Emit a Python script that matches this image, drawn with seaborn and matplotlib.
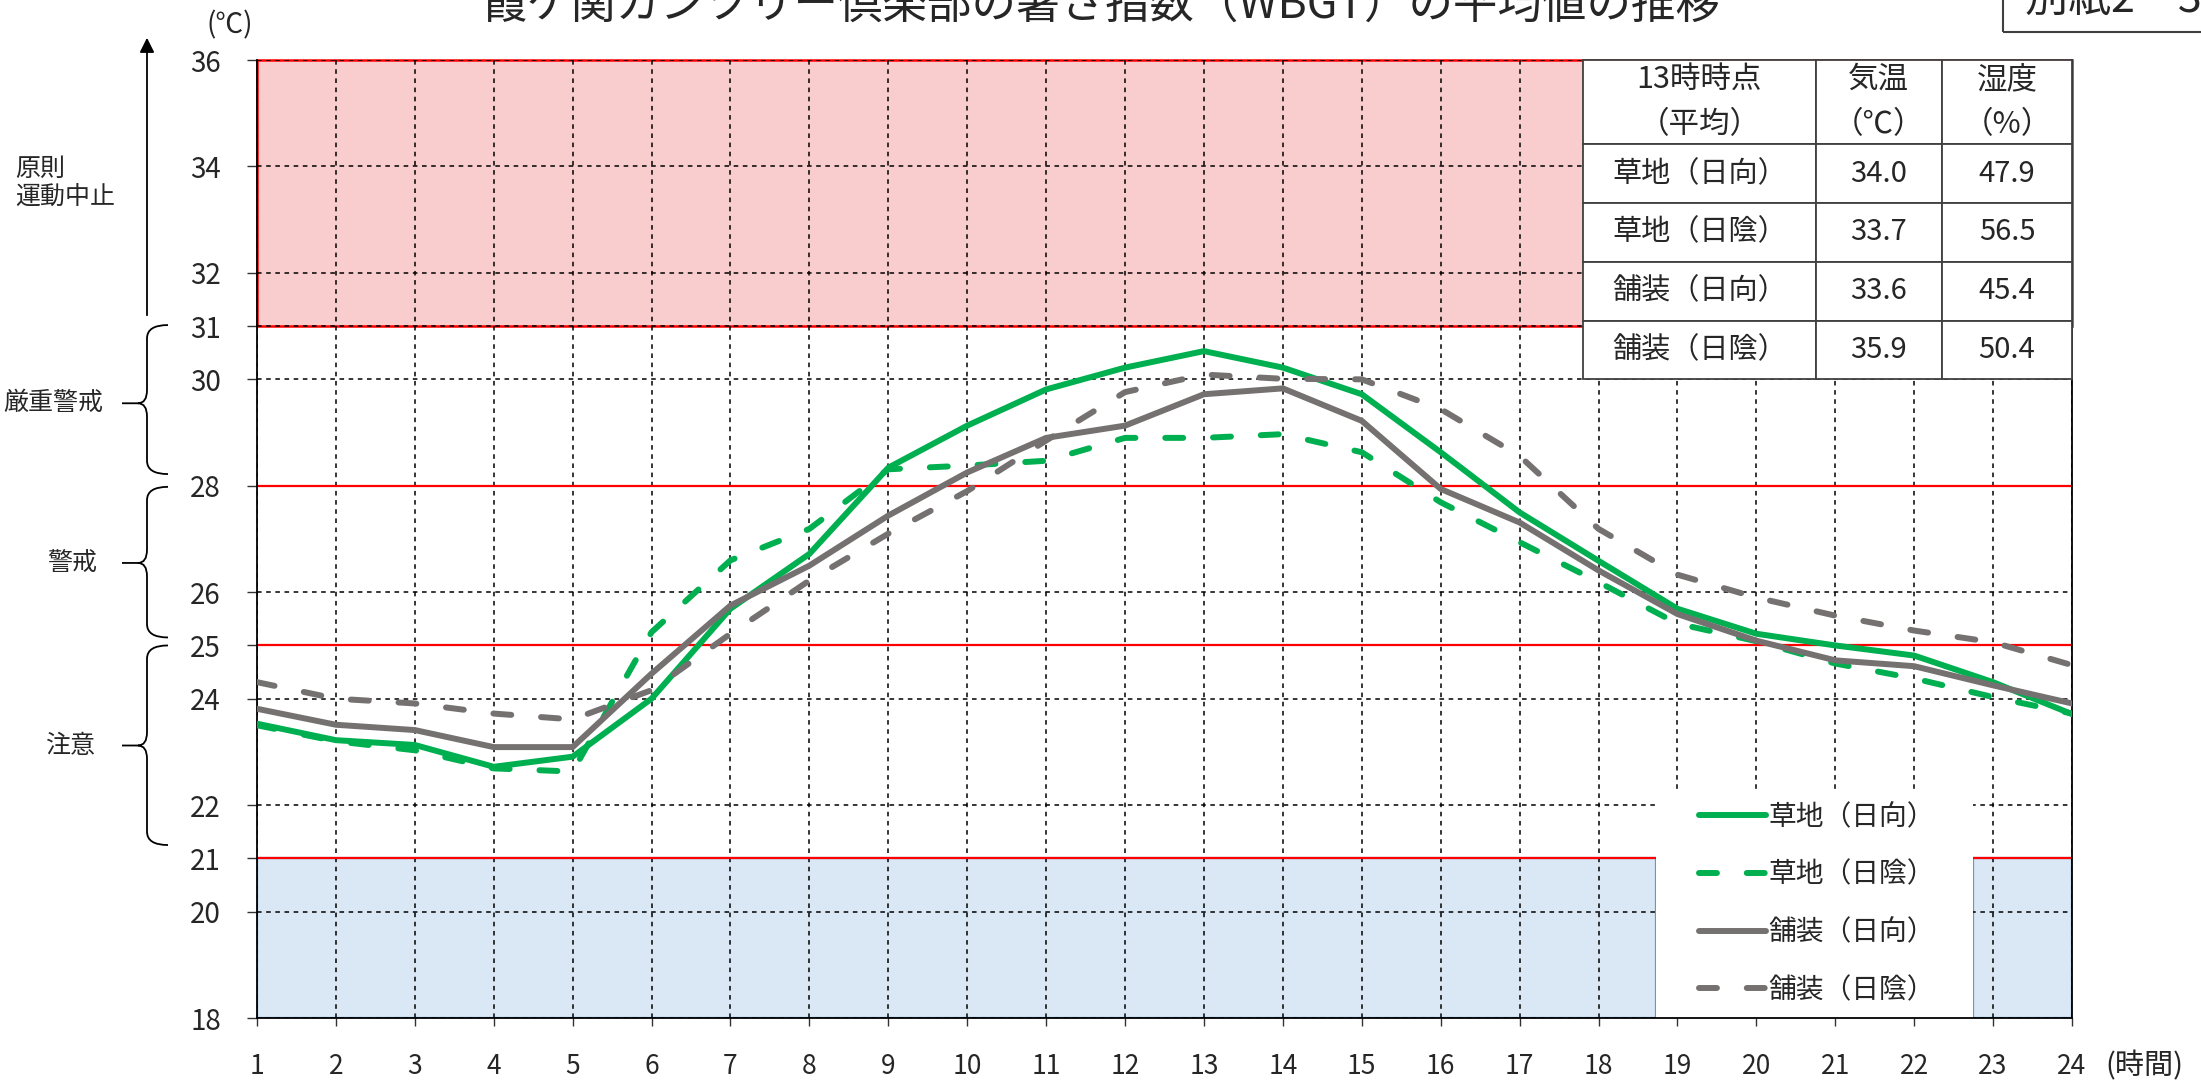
import numpy as np
import pandas as pd
import seaborn as sns
import matplotlib.pyplot as plt
import matplotlib.transforms as mtransforms
from matplotlib.patches import Rectangle, PathPatch
from matplotlib.path import Path

# --- data -------------------------------------------------------------
hours = list(range(1, 25))
kusa_hinata = [23.53, 23.22, 23.13, 22.72, 22.91, 24.00, 25.69, 26.72, 28.34, 29.13, 29.81, 30.22,
               30.53, 30.22, 29.72, 28.63, 27.50, 26.59, 25.69, 25.22, 25.00, 24.81, 24.31, 23.71]
kusa_hikage = [23.50, 23.20, 23.03, 22.69, 22.63, 25.25, 26.60, 27.19, 28.31, 28.38, 28.47, 28.90,
               28.90, 28.97, 28.63, 27.69, 26.94, 26.19, 25.41, 25.08, 24.66, 24.38, 24.03, 23.72]
hoso_hinata = [23.81, 23.51, 23.41, 23.09, 23.09, 24.47, 25.75, 26.50, 27.44, 28.25, 28.90, 29.13,
               29.72, 29.83, 29.22, 27.94, 27.31, 26.41, 25.59, 25.09, 24.72, 24.61, 24.25, 23.91]
hoso_hikage = [24.31, 24.00, 23.91, 23.72, 23.61, 24.16, 25.22, 26.22, 27.10, 27.90, 28.85, 29.76,
               30.09, 30.01, 30.00, 29.44, 28.56, 27.19, 26.33, 25.90, 25.56, 25.28, 25.06, 24.63]
series_names = ['草地（日向）', '草地（日陰）', '舗装（日向）', '舗装（日陰）']

table_header = ['13時時点\n（平均）', '気温\n（℃）', '湿度\n（%）']
table_temp = ['34.0', '33.7', '33.6', '35.9']
table_humid = ['47.9', '56.5', '45.4', '50.4']

y_ticks = [18, 20, 21, 22, 24, 25, 26, 28, 30, 31, 32, 34, 36]

# WBGT levels: (label, brace top, brace bottom, label y, label x px)
levels = [('厳重警戒', 31.02, 28.22, 29.55, 3),
          ('警戒', 27.98, 25.15, 26.55, 47),
          ('注意', 25.0, 21.25, 23.12, 45)]

GREEN = '#00b050'
GREY = '#767171'

W, H = 2201, 1080


def px(x):
    return x / W


def py(y):
    return 1 - y / H


sns.set_style('white')
plt.rcParams['font.family'] = ['Noto Sans CJK JP', 'DejaVu Sans']

fig = plt.figure(figsize=(W / 100, H / 100), dpi=100)
ax = fig.add_axes([px(257), py(1018), px(2072 - 257), (1018 - 60) / H])

df = pd.DataFrame({
    '時刻': hours * 4,
    'WBGT': kusa_hinata + kusa_hikage + hoso_hinata + hoso_hikage,
    '区分': np.repeat(series_names, len(hours)),
})

palette = dict(zip(series_names, [GREEN, GREEN, GREY, GREY]))
dashes = dict(zip(series_names, ['', (3, 5), '', (3, 5)]))
sns.lineplot(data=df, x='時刻', y='WBGT', hue='区分', style='区分',
             palette=palette, dashes=dashes, linewidth=4.3, errorbar=None,
             ax=ax, zorder=3)
for ln in ax.lines:
    ln.set_dash_capstyle('round')
    ln.set_solid_joinstyle('round')

# --- background bands ------------------------------------------------
legend_box_x = (18.73, 22.75)
ax.add_patch(Rectangle((1, 31), 23, 5, facecolor='#f9cccd', edgecolor='red',
                       lw=1.8, zorder=0.2, clip_on=False))
ax.add_patch(Rectangle((1, 18), legend_box_x[0] - 1, 3, facecolor='#dae8f6',
                       edgecolor='#5b9bd5', lw=1.6, zorder=0.2))
ax.add_patch(Rectangle((legend_box_x[1], 18), 24 - legend_box_x[1], 3,
                       facecolor='#dae8f6', edgecolor='#5b9bd5', lw=1.6, zorder=0.2))
ax.hlines([25, 28], 1, 24, color='red', lw=1.6, zorder=1)
ax.hlines(21, 1, legend_box_x[0], color='red', lw=1.6, zorder=1)
ax.hlines(21, legend_box_x[1], 24, color='red', lw=1.6, zorder=1)
ax.add_patch(Rectangle((legend_box_x[0], 18), legend_box_x[1] - legend_box_x[0], 4.28,
                       facecolor='white', edgecolor='none', zorder=1.5))

# --- axes ------------------------------------------------------------
ax.set_xlim(1, 24)
ax.set_ylim(18, 36)
ax.set_xticks(hours)
ax.set_yticks(y_ticks)
ax.set_xlabel('')
ax.set_ylabel('')
ax.set_axisbelow(True)
ax.grid(True, color='black', linestyle=(0, (3, 3)), linewidth=1.1)
ax.tick_params(axis='y', left=True, length=7, width=1, pad=19, labelsize=20, color='#333333')
ax.tick_params(axis='x', bottom=True, length=6, width=1, pad=19, labelsize=19, color='#333333')
for side in ['left', 'right', 'bottom']:
    ax.spines[side].set_visible(True)
    ax.spines[side].set_color('black')
    ax.spines[side].set_linewidth(1.3)
ax.spines['top'].set_visible(False)

# --- legend ----------------------------------------------------------
handles, labels = ax.get_legend_handles_labels()
leg = ax.legend(handles, labels, loc='center left', bbox_to_anchor=((1699 - 257) / 1815, 0.1195),
                frameon=False, fontsize=20, handlelength=2.4, handletextpad=0.1,
                labelspacing=1.0, borderpad=0, borderaxespad=0)
leg.set_zorder(5)
for ln in leg.get_lines():
    ln.set_linewidth(4.3)
    ln.set_dash_capstyle('round')

# --- table -----------------------------------------------------------
cell_text = [[n, t, h] for n, t, h in zip(series_names, table_temp, table_humid)]
tbl = ax.table(cellText=cell_text, colLabels=table_header, cellLoc='center',
               colWidths=[0.476, 0.258, 0.266],
               bbox=[(1583 - 257) / 1815, 12 / 18, (2072 - 1583) / 1815, 6 / 18], zorder=4)
tbl.auto_set_font_size(False)
tbl.set_fontsize(21)
for (r, c), cell in tbl.get_celld().items():
    cell.set_edgecolor('#404040')
    cell.set_linewidth(1.3)
    cell.set_facecolor('white')
    cell.set_height(1.58 if r == 0 else 1.1)
    if r == 0:
        cell.get_text().set_fontsize(22)
        cell.get_text().set_linespacing(1.6)

# --- annotations outside the plot ----------------------------------------
trans = mtransforms.blended_transform_factory(fig.transFigure, ax.transData)
tip, spine, nub, r = px(168), px(147), px(122), 0.25
for name, yt, yb, ym, lx in levels:
    verts = [(tip, yt), (spine, yt), (spine, yt - r), (spine, ym + r), (spine, ym), (px(138), ym),
             (nub, ym),
             (px(138), ym), (spine, ym), (spine, ym - r), (spine, yb + r), (spine, yb), (tip, yb)]
    codes = [Path.MOVETO, Path.CURVE3, Path.CURVE3, Path.LINETO, Path.CURVE3, Path.CURVE3,
             Path.LINETO,
             Path.MOVETO, Path.CURVE3, Path.CURVE3, Path.LINETO, Path.CURVE3, Path.CURVE3]
    fig.add_artist(PathPatch(Path(verts, codes), fill=False, lw=1.3, edgecolor='black',
                             transform=trans, clip_on=False))
    fig.text(px(lx), 0, name, transform=trans, ha='left', va='center', fontsize=18).set_y(ym)

ax.annotate('', xy=(px(147), py(35)), xytext=(px(147), py(318)), xycoords='figure fraction',
            arrowprops=dict(arrowstyle='-|>', color='black', lw=1.3, mutation_scale=22))
fig.text(px(15), py(183), '原則\n運動中止', ha='left', va='center', fontsize=18,
         linespacing=1.15, multialignment='left')

fig.text(px(230), py(25), '(℃)', ha='center', va='center', fontsize=20)
fig.text(px(2105), py(1066), '(時間)', ha='left', va='center', fontsize=21)

fig.text(0.5007, py(18), '霞ケ関カンツリー倶楽部の暑さ指数（WBGT）の平均値の推移',
         ha='center', va='baseline', fontsize=32)
fig.add_artist(Rectangle((px(2003), py(32)), 0.2, 0.1, transform=fig.transFigure,
                         fill=False, edgecolor='#404040', lw=1.5))
fig.text(px(2025), py(12), '別紙2　3', ha='left', va='baseline', fontsize=31)

fig.savefig('out.png', dpi=100)
